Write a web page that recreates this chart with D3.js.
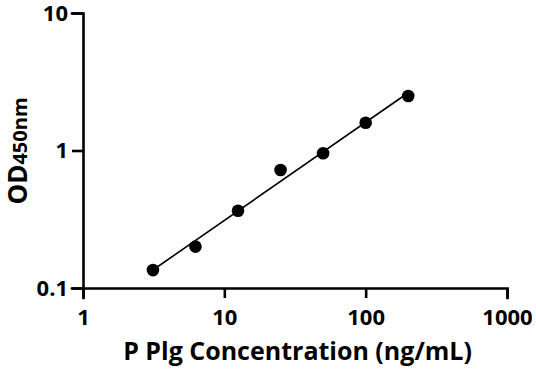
<!DOCTYPE html>
<html>
<head>
<meta charset="utf-8">
<script src="https://cdn.jsdelivr.net/npm/d3@7"></script>
<style>
  body { margin: 0; background: #fff; }
  text { font-family: "Open Sans", sans-serif; font-weight: 700; fill: #000; }
  .axis path, .axis line { stroke: #000; stroke-width: 2.6px; }
  .axis text { font-size: 22px; }
</style>
</head>
<body>
<script>
// concentration (ng/mL) vs OD450
const conc = [3.125, 6.25, 12.5, 25, 50, 100, 200];
const od = [0.135, 0.200, 0.365, 0.722, 0.954, 1.59, 2.49];
const xTicks = [1, 10, 100, 1000];
const yTicks = [0.1, 1, 10];

const margin = { top: 13, right: 29, bottom: 83, left: 83 },
    width = 536 - margin.left - margin.right,
    height = 371 - margin.top - margin.bottom;

const x = d3.scaleLog().domain([1, 1000]).range([0, width]),
    y = d3.scaleLog().domain([0.1, 10]).range([height, 0]);

const svg = d3.select('body').append('svg')
    .attr('width', 536)
    .attr('height', 371)
    .append('g')
    .attr('transform', 'translate(' + margin.left + ',' + margin.top + ')');

svg.append('g')
    .attr('class', 'axis')
    .attr('transform', 'translate(0,' + height + ')')
    .call(d3.axisBottom(x).tickValues(xTicks).tickFormat(d3.format('d'))
        .tickSizeOuter(0).tickSize(10).tickPadding(11));

svg.append('g')
    .attr('class', 'axis')
    .call(d3.axisLeft(y).tickValues(yTicks).tickFormat(d => String(d))
        .tickSizeOuter(0).tickSize(11).tickPadding(4));

// square off the line ends so the corner joins cleanly
svg.selectAll('.axis path').attr('stroke-linecap', 'square');

// log-log linear fit
const lx = conc.map(Math.log10), ly = od.map(Math.log10);
const mx = d3.mean(lx), my = d3.mean(ly);
const slope = d3.sum(lx, (v, i) => (v - mx) * (ly[i] - my)) / d3.sum(lx, v => (v - mx) * (v - mx));
const icpt = my - slope * mx;
const fit = d3.extent(conc).map(c => [c, Math.pow(10, icpt + slope * Math.log10(c))]);

svg.append('path')
    .datum(fit)
    .attr('fill', 'none')
    .attr('stroke', '#000')
    .attr('stroke-width', 1.6)
    .attr('d', d3.line().x(d => x(d[0])).y(d => y(d[1])));

svg.selectAll('circle')
    .data(conc)
    .enter().append('circle')
    .attr('cx', d => x(d))
    .attr('cy', (d, i) => y(od[i]))
    .attr('r', 6.3)
    .attr('fill', '#000');

svg.append('text')
    .attr('x', (123 + 472) / 2 - margin.left)
    .attr('y', 360 - margin.top)
    .attr('text-anchor', 'middle')
    .style('font-size', '25px')
    .text('P Plg Concentration (ng/mL)');

const yl = svg.append('text')
    .attr('transform', 'translate(' + (27 - margin.left) + ',' + (151 - margin.top) + ') rotate(-90)')
    .attr('text-anchor', 'middle');
yl.append('tspan').style('font-size', '26px').text('OD');
yl.append('tspan').style('font-size', '20px').text('450nm');
</script>
</body>
</html>
